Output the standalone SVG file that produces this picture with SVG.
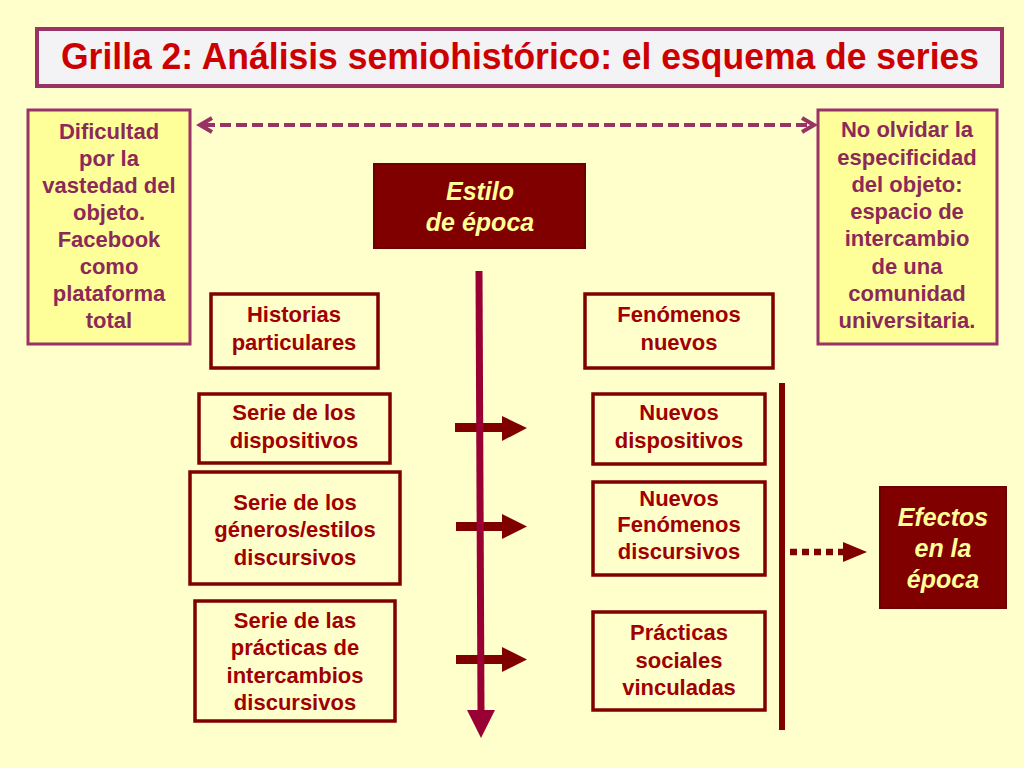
<svg xmlns="http://www.w3.org/2000/svg" width="1024" height="768" viewBox="0 0 1024 768">
<defs>
<style>
.bg{fill:#FFFFCC}
.t{font-family:"Liberation Sans",Arial,sans-serif;font-weight:bold;text-anchor:middle}
.note{fill:#FFFF99;stroke:#993366;stroke-width:3}
.notet{fill:#8B2A58;font-size:22px}
.box{fill:#FFFFCC;stroke:#800000;stroke-width:3.5}
.boxt{fill:#A00000;font-size:22px}
.dark{fill:#800000;stroke:#6B0000;stroke-width:2}
.darkt{fill:#FFFF99;font-size:25px;font-style:italic}
.conn{fill:#800000}
</style>
</defs>
<rect class="bg" x="0" y="0" width="1024" height="768"/>

<g id="title">
<rect x="37" y="29" width="965" height="57" fill="#F3F2F5" stroke="#993366" stroke-width="4"/>
<text class="t" x="520" y="69" font-size="36" fill="#CC0000" textLength="918" lengthAdjust="spacingAndGlyphs">Grilla 2: Análisis semiohistórico: el esquema de series</text>
</g>

<g id="connectors">
<line x1="204" y1="125" x2="810" y2="125" stroke="#993366" stroke-width="4" stroke-dasharray="11,5"/>
<polyline points="212,118 200,125 212,132" fill="none" stroke="#993366" stroke-width="4"/>
<polyline points="802,118 814,125 802,132" fill="none" stroke="#993366" stroke-width="4"/>
<rect x="455" y="423" width="50" height="9" class="conn"/>
<polygon points="502,416 527,428 502,441" class="conn"/>
<rect x="456" y="522" width="48" height="9" class="conn"/>
<polygon points="502,514 527,526.5 502,539" class="conn"/>
<rect x="456" y="655" width="48" height="9" class="conn"/>
<polygon points="502,647 527,659.5 502,672" class="conn"/>
<line x1="479" y1="271" x2="481" y2="712" stroke="#990033" stroke-width="7"/>
<polygon points="467,710 495,710 481,738" fill="#990033"/>
<rect x="779" y="383" width="6" height="347" class="conn"/>
<line x1="790" y1="552" x2="845" y2="552" stroke="#800000" stroke-width="6.5" stroke-dasharray="7,5"/>
<polygon points="843,542 867,552 843,562" class="conn"/>
</g>

<g id="n-dificultad">
<rect class="note" x="28" y="110" width="162" height="234"/>
<text class="t notet"><tspan x="109" y="139">Dificultad</tspan><tspan x="109" y="166">por la</tspan><tspan x="109" y="193">vastedad del</tspan><tspan x="109" y="220">objeto.</tspan><tspan x="109" y="247">Facebook</tspan><tspan x="109" y="274">como</tspan><tspan x="109" y="301">plataforma</tspan><tspan x="109" y="328">total</tspan></text>
</g>

<g id="n-olvidar">
<rect class="note" x="818" y="110" width="179" height="234"/>
<text class="t notet"><tspan x="907" y="137">No olvidar la</tspan><tspan x="907" y="165">especificidad</tspan><tspan x="907" y="192">del objeto:</tspan><tspan x="907" y="219">espacio de</tspan><tspan x="907" y="246">intercambio</tspan><tspan x="907" y="274">de una</tspan><tspan x="907" y="301">comunidad</tspan><tspan x="907" y="328">universitaria.</tspan></text>
</g>

<g id="n-estilo">
<rect class="dark" x="374" y="164" width="211" height="84"/>
<text class="t darkt"><tspan x="480" y="200">Estilo</tspan><tspan x="480" y="231">de época</tspan></text>
</g>

<g id="n-historias">
<rect class="box" x="211" y="294" width="167" height="74"/>
<text class="t boxt"><tspan x="294" y="322">Historias</tspan><tspan x="294" y="350">particulares</tspan></text>
</g>

<g id="n-serie-disp">
<rect class="box" x="199" y="394" width="191" height="69"/>
<text class="t boxt"><tspan x="294" y="420">Serie de los</tspan><tspan x="294" y="448">dispositivos</tspan></text>
</g>

<g id="n-serie-gen">
<rect class="box" x="190" y="472" width="210" height="112"/>
<text class="t boxt"><tspan x="295" y="510">Serie de los</tspan><tspan x="295" y="537">géneros/estilos</tspan><tspan x="295" y="565">discursivos</tspan></text>
</g>

<g id="n-serie-prac">
<rect class="box" x="195" y="601" width="200" height="120"/>
<text class="t boxt"><tspan x="295" y="628">Serie de las</tspan><tspan x="295" y="655">prácticas de</tspan><tspan x="295" y="683">intercambios</tspan><tspan x="295" y="710">discursivos</tspan></text>
</g>

<g id="n-fenomenos">
<rect class="box" x="585" y="294" width="188" height="74"/>
<text class="t boxt"><tspan x="679" y="322">Fenómenos</tspan><tspan x="679" y="350">nuevos</tspan></text>
</g>

<g id="n-nuevos-disp">
<rect class="box" x="593" y="394" width="172" height="70"/>
<text class="t boxt"><tspan x="679" y="420">Nuevos</tspan><tspan x="679" y="448">dispositivos</tspan></text>
</g>

<g id="n-nuevos-fen">
<rect class="box" x="593" y="482" width="172" height="93"/>
<text class="t boxt"><tspan x="679" y="506">Nuevos</tspan><tspan x="679" y="532">Fenómenos</tspan><tspan x="679" y="559">discursivos</tspan></text>
</g>

<g id="n-practicas">
<rect class="box" x="593" y="612" width="172" height="98"/>
<text class="t boxt"><tspan x="679" y="640">Prácticas</tspan><tspan x="679" y="668">sociales</tspan><tspan x="679" y="695">vinculadas</tspan></text>
</g>

<g id="n-efectos">
<rect class="dark" x="880" y="487" width="126" height="121"/>
<text class="t darkt"><tspan x="943" y="526">Efectos</tspan><tspan x="943" y="557">en la</tspan><tspan x="943" y="588">época</tspan></text>
</g>
</svg>
